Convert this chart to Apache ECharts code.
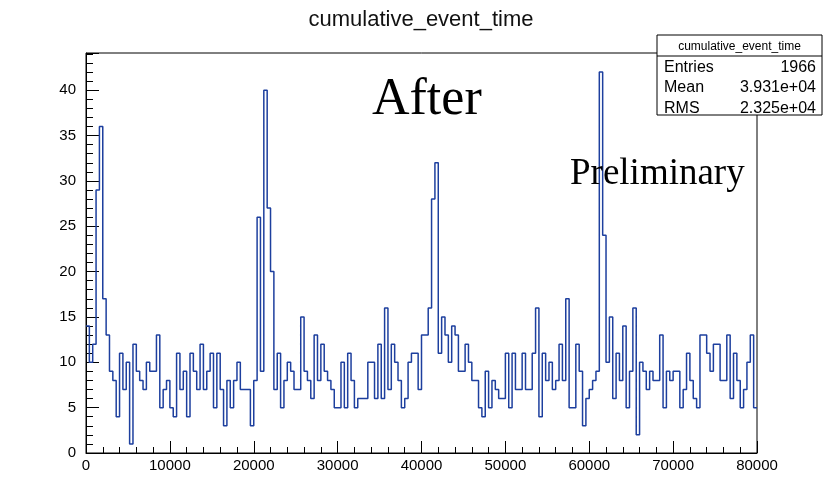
<!DOCTYPE html>
<html>
<head>
<meta charset="utf-8">
<script src="https://cdn.jsdelivr.net/npm/echarts@6/dist/echarts.min.js"></script>
<style>
  html, body { margin: 0; padding: 0; background: #fff; }
  #main { width: 824px; height: 500px; }
</style>
</head>
<body>
<div id="main"></div>
<script>
// histogram: 200 bins of 400 over 0..80000
var xMin = 0;
var xMax = 80000;
var binWidth = 400;
var xTicks = [0, 10000, 20000, 30000, 40000, 50000, 60000, 70000, 80000];
var yTicks = [0, 5, 10, 15, 20, 25, 30, 35, 40];

// counts per bin
var counts = [
  14, 10, 12, 29, 36, 17, 13, 9, 8, 4,
  11, 7, 10, 1, 12, 9, 8, 7, 10, 9,
  9, 13, 5, 7, 8, 5, 4, 11, 7, 9,
  4, 11, 9, 7, 12, 7, 9, 11, 5, 11,
  7, 3, 8, 5, 8, 10, 7, 7, 7, 3,
  8, 26, 9, 40, 27, 20, 7, 11, 5, 8,
  10, 9, 7, 7, 15, 9, 8, 6, 13, 8,
  12, 9, 8, 7, 5, 5, 10, 5, 11, 8,
  5, 6, 6, 6, 10, 10, 6, 12, 6, 16,
  7, 12, 10, 8, 5, 6, 10, 11, 11, 7,
  13, 13, 16, 28, 32, 11, 15, 13, 10, 14,
  13, 9, 9, 12, 10, 8, 8, 5, 4, 9,
  5, 8, 7, 6, 6, 11, 5, 11, 7, 7,
  11, 7, 7, 11, 16, 4, 11, 8, 10, 7,
  8, 12, 8, 17, 5, 5, 12, 9, 3, 6,
  7, 8, 9, 42, 24, 10, 15, 6, 11, 8,
  14, 5, 9, 16, 2, 10, 9, 7, 9, 8,
  8, 13, 5, 9, 8, 9, 9, 5, 7, 11,
  8, 6, 5, 13, 13, 11, 9, 12, 12, 8,
  8, 13, 6, 11, 8, 5, 7, 10, 13, 5
];

var histTitle = 'cumulative_event_time';
var statNames = ['Entries', 'Mean', 'RMS'];
var statValues = ['1966', '3.931e+04', '2.325e+04'];

// step outline: one point per bin left edge, plus the last right edge
var stepData = counts.map(function (v, i) { return [xMin + i * binWidth, v]; });
stepData.push([xMax, counts[counts.length - 1]]);

var yMax = 1.05 * Math.max.apply(null, counts);

var chart = echarts.init(document.getElementById('main'));

var sansFont = '"Liberation Sans", Helvetica, Arial, sans-serif';
var serifFont = '"Liberation Serif", "Times New Roman", serif';

// stats box
var boxX = 657, boxY = 35, boxW = 165, boxH = 80, headH = 21, rowH = 20.5;
var statGraphics = [
  {
    type: 'rect', shape: { x: boxX, y: boxY, width: boxW, height: boxH },
    style: { fill: '#fff', stroke: '#000', lineWidth: 1 }, z: 100
  },
  {
    type: 'line', shape: { x1: boxX, y1: boxY + headH, x2: boxX + boxW, y2: boxY + headH },
    style: { stroke: '#000', lineWidth: 1 }, z: 101
  },
  {
    type: 'text', x: boxX + boxW / 2, y: boxY + headH / 2 + 1, z: 101,
    style: { text: histTitle, font: '12px ' + sansFont, fill: '#000', align: 'center', verticalAlign: 'middle' }
  }
];
statNames.forEach(function (name, i) {
  var cy = boxY + headH + rowH * (i + 0.5) + 1;
  statGraphics.push({
    type: 'text', x: boxX + 7, y: cy, z: 101,
    style: { text: name, font: '16px ' + sansFont, fill: '#000', align: 'left', verticalAlign: 'middle' }
  });
  statGraphics.push({
    type: 'text', x: boxX + boxW - 6, y: cy, z: 101,
    style: { text: statValues[i], font: '16px ' + sansFont, fill: '#000', align: 'right', verticalAlign: 'middle' }
  });
});

var option = {
  backgroundColor: '#fff',
  animation: false,
  grid: {
    left: 86, right: 67, top: 53, bottom: 47,
    show: true, borderColor: '#000', borderWidth: 1, backgroundColor: '#fff'
  },
  xAxis: {
    type: 'value',
    min: xMin, max: xMax, interval: 10000,
    axisLine: { show: true, onZero: false, lineStyle: { color: '#000', width: 1 } },
    axisTick: { show: true, inside: true, length: 12, lineStyle: { color: '#000', width: 1 } },
    minorTick: { show: true, splitNumber: 5, length: 6, lineStyle: { color: '#000', width: 1 } },
    splitLine: { show: false },
    axisLabel: {
      margin: 5, color: '#000', fontSize: 15, fontFamily: sansFont,
      formatter: function (v) { return xTicks.indexOf(v) >= 0 ? String(v) : ''; }
    }
  },
  yAxis: {
    type: 'value',
    min: 0, max: yMax, interval: 5,
    axisLine: { show: true, lineStyle: { color: '#000', width: 1 } },
    axisTick: { show: true, inside: true, length: 13, lineStyle: { color: '#000', width: 1 } },
    minorTick: { show: true, splitNumber: 5, length: 7, lineStyle: { color: '#000', width: 1 } },
    splitLine: { show: false },
    axisLabel: {
      margin: 10, color: '#000', fontSize: 15, fontFamily: sansFont,
      showMaxLabel: false,
      formatter: function (v) { return yTicks.indexOf(v) >= 0 ? String(v) : ''; }
    }
  },
  series: [{
    type: 'line',
    step: 'end',
    data: stepData,
    symbol: 'none',
    lineStyle: { color: '#1d3f9e', width: 1.5 },
    z: 5
  }],
  graphic: [
    {
      type: 'text', x: 421, y: 20,
      style: { text: histTitle, font: '22px ' + sansFont, fill: '#111', align: 'center', verticalAlign: 'middle' }
    },
    {
      type: 'text', x: 372, y: 100, z: 50,
      style: { text: 'After', font: '52px ' + serifFont, fill: '#000', align: 'left', verticalAlign: 'middle' }
    },
    {
      type: 'text', x: 570, y: 174, z: 50,
      style: { text: 'Preliminary', font: '37px ' + serifFont, fill: '#000', align: 'left', verticalAlign: 'middle' }
    }
  ].concat(statGraphics)
};

chart.setOption(option);
</script>
</body>
</html>
